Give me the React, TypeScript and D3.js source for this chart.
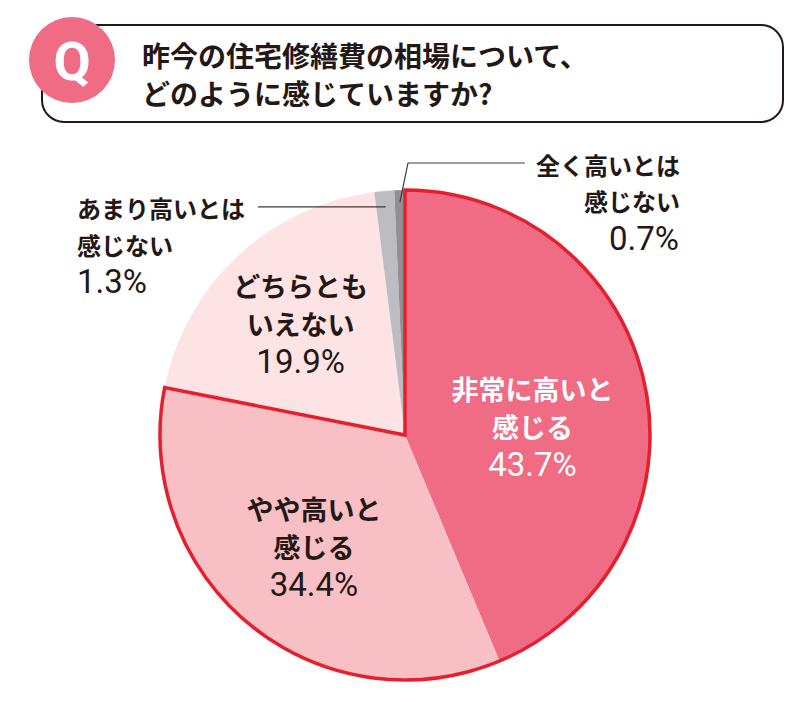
import React from 'react';
import { arc, pie, PieArcDatum } from 'd3';

// survey answers, clockwise from 12 o'clock
const categories = [
  '非常に高いと感じる',
  'やや高いと感じる',
  'どちらともいえない',
  'あまり高いとは感じない',
  '全く高いとは感じない',
];
const labelLines = [
  ['非常に高いと', '感じる'],
  ['やや高いと', '感じる'],
  ['どちらとも', 'いえない'],
  ['あまり高いとは', '感じない'],
  ['全く高いとは', '感じない'],
];
const values = [43.7, 34.4, 19.9, 1.3, 0.7];
const titleLines = ['昨今の住宅修繕費の相場について、', 'どのように感じていますか?'];

const colors = ['#f06c85', '#f8c0c5', '#fde3e4', '#bcbdc1', '#8f9094'];
const labelColors = ['#ffffff', '#231815', '#231815'];

const width = 800;
const height = 702;
const cx = 405;
const cy = 435;
const radius = 245;

const jpFont = '"Noto Sans CJK JP", "Noto Sans", sans-serif';
const numFont = 'Roboto, "Noto Sans CJK JP", sans-serif';
const ink = '#231815';

const App: React.FC = () => {
  const arcs = pie<number>().sort(null).value((d) => d)(values);
  const sector = arc<PieArcDatum<number>>().innerRadius(0).outerRadius(radius);

  // red outline goes round the two "high" answers together
  const outline = arc()({
    innerRadius: 0,
    outerRadius: radius,
    startAngle: arcs[0].startAngle,
    endAngle: arcs[1].endAngle,
  }) as string;

  // inner labels
  const innerRadius = [130, 144, 153];
  const innerShift = [17, 0, 0];
  const lineGap = 38;

  const pointAt = (a: PieArcDatum<number>, r: number) =>
    arc<PieArcDatum<number>>().innerRadius(r).outerRadius(r).centroid(a);

  const [ax, ay] = pointAt(arcs[3], 229);
  const [bx, by] = pointAt(arcs[4], 233);

  return (
    <svg
      width={width}
      height={height}
      style={{ position: 'absolute', left: 0, top: 0, background: '#fff' }}
    >
      {/* question box */}
      <rect x={42} y={25} width={741} height={97} rx={22} fill="#fff" stroke={ink} strokeWidth={2} />
      <circle cx={72} cy={60} r={43} fill="#f06c85" />
      <text
        x={72}
        y={61}
        fill="#fff"
        fontFamily={numFont}
        fontWeight={700}
        fontSize={54}
        textAnchor="middle"
        dominantBaseline="central"
      >
        Q
      </text>
      {titleLines.map((t, i) => (
        <text
          key={t}
          x={142}
          y={55 + i * 38}
          fill={ink}
          fontFamily={jpFont}
          fontWeight={700}
          fontSize={28}
          dominantBaseline="central"
        >
          {t}
        </text>
      ))}

      {/* pie */}
      <g transform={`translate(${cx},${cy})`}>
        {arcs.map((a, i) => (
          <path key={categories[i]} d={sector(a) as string} fill={colors[i]} />
        ))}
        <path d={outline} fill="none" stroke="#e61f2d" strokeWidth={3.5} strokeLinejoin="miter" />

        {arcs.slice(0, 3).map((a, i) => {
          const [x, y0] = pointAt(a, innerRadius[i]);
          const y = y0 + innerShift[i];
          return (
            <g key={categories[i]} fill={labelColors[i]} textAnchor="middle">
              {labelLines[i].map((t, j) => (
                <text
                  key={t}
                  x={x}
                  y={y + (j - 1) * lineGap}
                  fontFamily={jpFont}
                  fontWeight={700}
                  fontSize={27}
                  dominantBaseline="central"
                >
                  {t}
                </text>
              ))}
              <text
                x={x}
                y={y + lineGap}
                fontFamily={numFont}
                fontWeight={400}
                fontSize={33}
                dominantBaseline="central"
              >
                {`${values[i]}%`}
              </text>
            </g>
          );
        })}

        {/* leader lines */}
        <polyline
          points={`${ax},${ay} ${258 - cx},${ay}`}
          fill="none"
          stroke="#3e3a39"
          strokeWidth={1.2}
        />
        <polyline
          points={`${bx},${by} ${408 - cx},${163 - cy} ${525 - cx},${163 - cy}`}
          fill="none"
          stroke="#3e3a39"
          strokeWidth={1.2}
        />
      </g>

      {/* outside labels */}
      <g fill={ink}>
        {labelLines[3].map((t, j) => (
          <text
            key={t}
            x={77}
            y={207 + j * 37}
            fontFamily={jpFont}
            fontWeight={700}
            fontSize={24}
            dominantBaseline="central"
          >
            {t}
          </text>
        ))}
        <text x={77} y={281} fontFamily={numFont} fontWeight={400} fontSize={33} dominantBaseline="central">
          {`${values[3]}%`}
        </text>

        {labelLines[4].map((t, j) => (
          <text
            key={t}
            x={680}
            y={164 + j * 36}
            fontFamily={jpFont}
            fontWeight={700}
            fontSize={24}
            textAnchor="end"
            dominantBaseline="central"
          >
            {t}
          </text>
        ))}
        <text
          x={679}
          y={238}
          fontFamily={numFont}
          fontWeight={400}
          fontSize={33}
          textAnchor="end"
          dominantBaseline="central"
        >
          {`${values[4]}%`}
        </text>
      </g>
    </svg>
  );
};

export default App;
